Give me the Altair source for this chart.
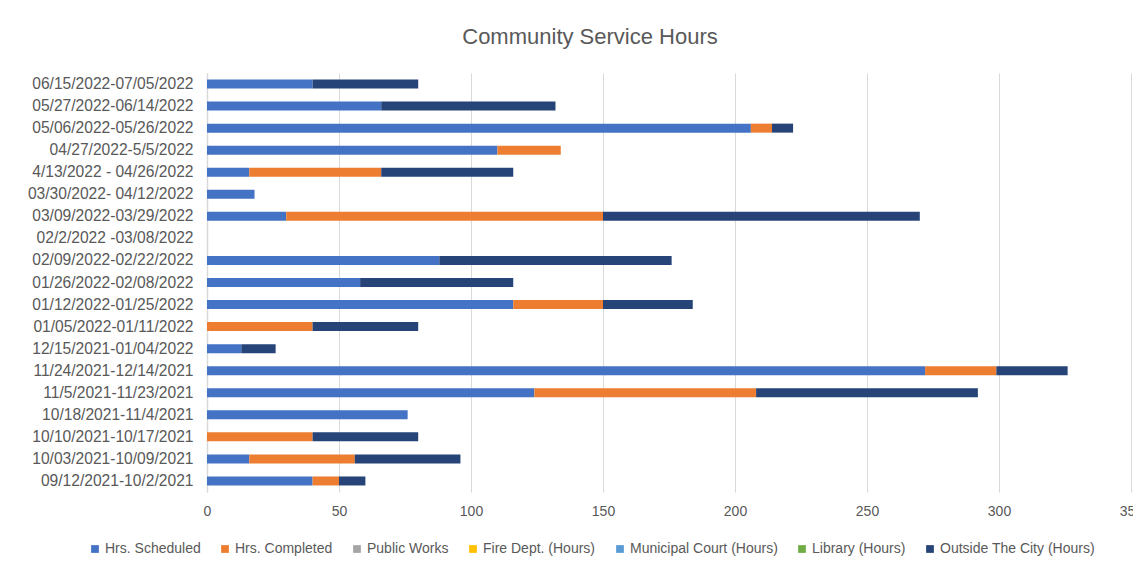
import altair as alt
import pandas as pd

periods = [
    "06/15/2022-07/05/2022",
    "05/27/2022-06/14/2022",
    "05/06/2022-05/26/2022",
    "04/27/2022-5/5/2022",
    "4/13/2022 - 04/26/2022",
    "03/30/2022- 04/12/2022",
    "03/09/2022-03/29/2022",
    "02/2/2022 -03/08/2022",
    "02/09/2022-02/22/2022",
    "01/26/2022-02/08/2022",
    "01/12/2022-01/25/2022",
    "01/05/2022-01/11/2022",
    "12/15/2021-01/04/2022",
    "11/24/2021-12/14/2021",
    "11/5/2021-11/23/2021",
    "10/18/2021-11/4/2021",
    "10/10/2021-10/17/2021",
    "10/03/2021-10/09/2021",
    "09/12/2021-10/2/2021",
]

hrs_scheduled = [40, 66, 206, 110, 16, 18, 30, 0, 88, 58, 116, 0, 13, 272, 124, 76, 0, 16, 40]
hrs_completed = [0, 0, 8, 24, 50, 0, 120, 0, 0, 0, 34, 40, 0, 27, 84, 0, 40, 40, 10]
public_works = [0] * 19
fire_dept = [0] * 19
municipal_court = [0] * 19
library = [0] * 19
outside_city = [40, 66, 8, 0, 50, 0, 120, 0, 88, 58, 34, 40, 13, 27, 84, 0, 40, 40, 10]

series_names = [
    "Hrs. Scheduled",
    "Hrs. Completed",
    "Public Works",
    "Fire Dept. (Hours)",
    "Municipal Court (Hours)",
    "Library (Hours)",
    "Outside The City (Hours)",
]
series_colors = ["#4472C4", "#ED7D31", "#A5A5A5", "#FFC000", "#5B9BD5", "#70AD47", "#264478"]
series_values = [hrs_scheduled, hrs_completed, public_works, fire_dept,
                 municipal_court, library, outside_city]

rows = []
for si, (name, vals) in enumerate(zip(series_names, series_values)):
    for p, v in zip(periods, vals):
        rows.append({"period": p, "series": name, "value": v, "idx": si})
df = pd.DataFrame(rows)

FONT = "Liberation Sans"
GREY = "#595959"

chart = alt.Chart(df).mark_bar(size=9).encode(
    x=alt.X(
        "value:Q",
        stack="zero",
        scale=alt.Scale(domain=[0, 350], nice=False),
        axis=alt.Axis(
            values=[0, 50, 100, 150, 200, 250, 300, 350],
            title=None,
            domain=False,
            ticks=False,
            grid=True,
            gridColor="#D9D9D9",
            gridWidth=1,
            labelFont=FONT,
            labelFontSize=14,
            labelColor=GREY,
            labelPadding=12,
            labelFlush=False,
        ),
    ),
    y=alt.Y(
        "period:N",
        sort=periods,
        scale=alt.Scale(paddingInner=0, paddingOuter=0),
        axis=alt.Axis(
            title=None,
            ticks=False,
            domain=True,
            domainColor="#D9D9D9",
            domainWidth=1.5,
            labelFont=FONT,
            labelFontSize=15.6,
            labelColor=GREY,
            labelPadding=14,
        ),
    ),
    color=alt.Color(
        "series:N",
        sort=series_names,
        scale=alt.Scale(domain=series_names, range=series_colors),
        legend=alt.Legend(
            title=None,
            orient="none",
            direction="horizontal",
            legendX=-119,
            legendY=469,
            symbolType="square",
            symbolSize=60,
            symbolStrokeWidth=0,
            labelFont=FONT,
            labelFontSize=14,
            labelColor=GREY,
            labelOffset=3,
            columnPadding=17,
        ),
    ),
    order=alt.Order("idx:Q"),
).properties(
    width=924,
    height=419,
    title=alt.TitleParams(
        "Community Service Hours",
        font=FONT,
        fontSize=22,
        fontWeight="normal",
        color=GREY,
        anchor="middle",
        dx=-79,
        offset=24,
    ),
    autosize=alt.AutoSizeParams(type="none"),
    padding={"left": 199, "top": 65, "right": 2, "bottom": 70},
).configure_view(stroke=None)

chart.save("out.html", embed_options={"renderer": "svg", "actions": False})
